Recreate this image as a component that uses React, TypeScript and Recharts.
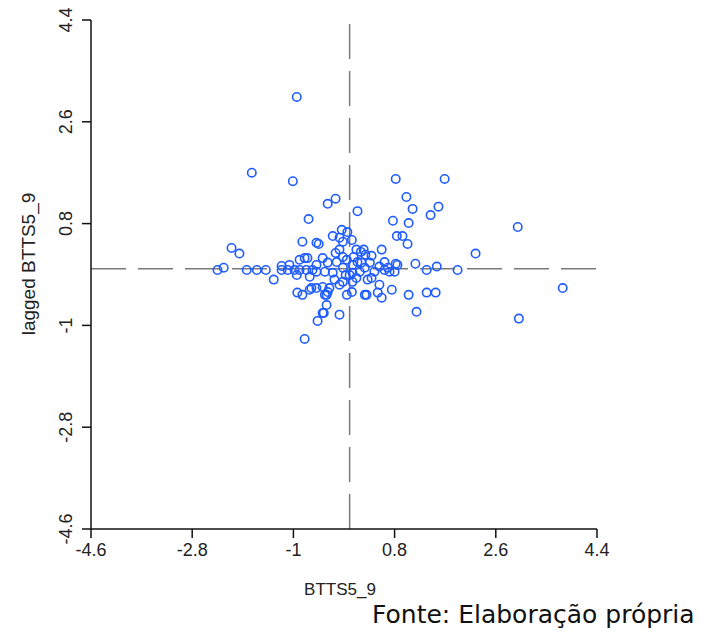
import React from 'react';
import { ScatterChart, Scatter, XAxis, YAxis, ReferenceLine } from 'recharts';

const xValues = [
  -0.94, -1.74, -1.01, -0.25, -0.39, -0.73, 0.14, 0.82, 1.69, 1.01,
  1.12, 1.58, 1.44, 0.77, 1.05, 2.99, 0.84, 0.94, 1.03, 0.57,
  2.24, 0.25, 1.17, 1.55, 1.37, 1.92, 0.82, 3.79, 3.01, 1.19,
  1.05, 1.37, 1.53, 0.75, 0.53, 0.57, 0.30, 0.32, -0.05, -0.18,
  -2.10, -1.96, -2.24, -2.35, -1.83, -1.65, -1.49, -1.35, -1.21, -1.21,
  -1.10, -0.98, -0.84, -0.59, -0.89, -0.80, -0.75, -0.89, -0.77, -0.66,
  -0.94, -0.71, -0.93, -0.84, -0.71, -0.59, -0.80, -0.57, -0.46, -0.41,
  -0.41, -0.36, -0.14, -0.04, -0.30, -0.18, 0.04, -0.55, -0.12, 0.20,
  0.28, 0.07, -0.18, -0.25, -0.12, -0.59, -0.39, -0.23, -0.59, -0.44,
  -0.30, -0.12, 0.05, 0.21, 0.36, 0.53, 0.68, 0.80, 0.85, 0.05,
  0.18, -0.68, -0.48, -0.39, -0.44, -0.18, -0.12, 0.05, 0.27, 0.50,
  -0.48, 0.04, 0.00, 0.12, -0.07, 0.27, 0.44, 0.62, 0.71, 0.39,
  -0.27, 0.14, -0.05, 0.12, 0.39, 0.62, -0.48, -1.07,
];

const yValues = [
  3.04, 1.70, 1.55, 1.24, 1.15, 0.88, 1.02, 1.59, 1.59, 1.27,
  1.06, 1.10, 0.95, 0.85, 0.81, 0.74, 0.58, 0.58, 0.44, 0.34,
  0.27, 0.34, 0.09, 0.04, -0.02, -0.02, 0.09, -0.34, -0.88, -0.76,
  -0.46, -0.42, -0.42, -0.37, -0.28, -0.51, -0.46, -0.19, -0.46, -0.81,
  0.37, 0.27, 0.02, -0.02, -0.02, -0.02, -0.02, -0.19, 0.05, -0.02,
  -0.02, -0.02, 0.48, 0.46, 0.16, 0.19, 0.19, -0.02, -0.02, -0.02,
  -0.11, -0.14, -0.42, -0.46, -0.37, -0.34, -1.24, -0.92, -0.78, -0.64,
  -0.46, -0.34, 0.69, 0.65, 0.58, 0.55, 0.51, 0.44, 0.48, 0.30,
  0.25, 0.21, 0.34, 0.28, 0.21, 0.07, 0.11, 0.12, -0.05, -0.05,
  -0.07, 0.02, 0.07, 0.11, 0.11, 0.04, 0.02, -0.05, 0.07, -0.07,
  -0.05, -0.34, -0.32, -0.41, -0.46, -0.28, -0.23, -0.23, -0.46, -0.42,
  -0.78, -0.41, -0.11, -0.16, -0.11, 0.02, -0.05, -0.02, -0.05, -0.16,
  -0.19, 0.12, 0.16, 0.34, 0.23, 0.12, 0.19, 0.07,
];

const tickValues = [-4.6, -2.8, -1, 0.8, 2.6, 4.4];
const xLabel = 'BTTS5_9';
const yLabel = 'lagged BTTS5_9';
const sourceNote = 'Fonte: Elaboração própria';

const points = xValues.map((x, i) => ({ x, y: yValues[i] }));

const FONT = '"Liberation Sans", Arial, sans-serif';

const Ring = (props: any) => {
  const { cx, cy } = props;
  if (cx == null || cy == null) return null;
  return <circle cx={cx} cy={cy} r={4.2} fill="none" stroke="#1f5cff" strokeWidth={1.6} />;
};

const YTick = (props: any) => {
  const { x, y, payload } = props;
  const tx = x - 8;
  return (
    <text
      x={tx}
      y={y}
      transform={`rotate(-90, ${tx}, ${y})`}
      textAnchor="middle"
      fontFamily={FONT}
      fontSize={18}
      fill="#222"
    >
      {payload.value}
    </text>
  );
};

const XTick = (props: any) => {
  const { x, y, payload } = props;
  return (
    <text x={x} y={y + 16} textAnchor="middle" fontFamily={FONT} fontSize={18} fill="#222">
      {payload.value}
    </text>
  );
};

export default function App() {
  return (
    <div style={{ position: 'absolute', left: 0, top: 0, width: 701, height: 639, background: '#fff', overflow: 'hidden' }}>
      <ScatterChart width={701} height={639} margin={{ top: 20, right: 104, left: 0, bottom: 0 }}>
        <XAxis
          type="number"
          dataKey="x"
          domain={[-4.6, 4.4]}
          ticks={tickValues}
          interval={0}
          height={110}
          tickSize={9}
          tickMargin={2}
          stroke="#111"
          strokeWidth={1.5}
          tick={<XTick />}
          allowDataOverflow
        />
        <YAxis
          type="number"
          dataKey="y"
          domain={[-4.6, 4.4]}
          ticks={tickValues}
          interval={0}
          width={91}
          tickSize={9}
          tickMargin={2}
          stroke="#111"
          strokeWidth={1.5}
          tick={<YTick />}
          allowDataOverflow
        />
        <ReferenceLine x={0} stroke="#7a7a7a" strokeWidth={1.5} strokeDasharray="35 12" />
        <ReferenceLine y={0} stroke="#7a7a7a" strokeWidth={1.5} strokeDasharray="35 12" />
        <Scatter data={points} shape={<Ring />} isAnimationActive={false} />
      </ScatterChart>
      <div
        style={{
          position: 'absolute',
          left: 240,
          top: 580,
          width: 200,
          textAlign: 'center',
          fontFamily: FONT,
          fontSize: 17,
          color: '#222',
        }}
      >
        {xLabel}
      </div>
      <div
        style={{
          position: 'absolute',
          left: 29,
          top: 264,
          width: 0,
          height: 0,
        }}
      >
        <div
          style={{
            position: 'absolute',
            left: -100,
            top: -12,
            width: 200,
            textAlign: 'center',
            transform: 'rotate(-90deg)',
            fontFamily: FONT,
            fontSize: 19,
            lineHeight: '24px',
            color: '#222',
            whiteSpace: 'nowrap',
          }}
        >
          {yLabel}
        </div>
      </div>
      <div
        style={{
          position: 'absolute',
          left: 372,
          top: 600,
          fontFamily: '"DejaVu Sans", Tahoma, sans-serif',
          fontSize: 25,
          color: '#111',
          whiteSpace: 'nowrap',
        }}
      >
        {sourceNote}
      </div>
    </div>
  );
}
